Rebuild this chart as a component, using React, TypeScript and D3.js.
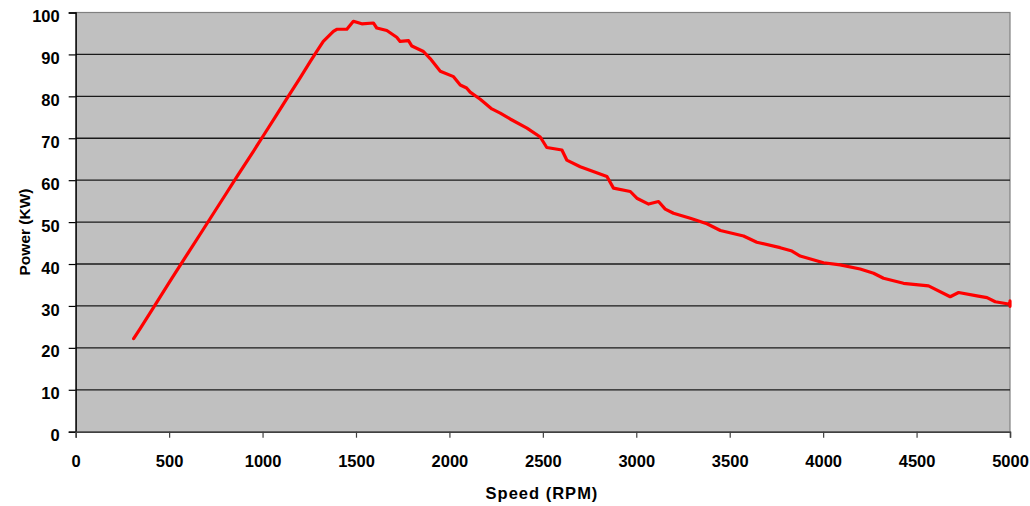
import { useEffect, useRef } from 'react'
import * as d3 from 'd3'

// Power curve (rpm, kW)
const rpm = [
  310, 345, 416, 505, 594, 666, 719, 808, 862, 951, 1004, 1070, 1129, 1201, 1254, 1290,
  1325, 1379, 1397, 1451, 1486, 1531, 1593, 1611, 1665, 1718, 1736, 1781, 1799, 1861,
  1897, 1951, 2022, 2058, 2092, 2111, 2165, 2227, 2272, 2325, 2415, 2486, 2521, 2602,
  2628, 2700, 2843, 2878, 2968, 3003, 3066, 3119, 3155, 3199, 3289, 3378, 3450, 3574,
  3645, 3770, 3833, 3877, 4002, 4091, 4198, 4270, 4323, 4430, 4564, 4680, 4725, 4823,
  4877, 4921, 5000, 5000, 5000,
]
const power = [
  22.2, 24.6, 29.6, 35.9, 42.1, 47.1, 50.8, 57, 60.8, 66.9, 70.6, 75.2, 79.4, 84.4, 88.2, 90.7,
  93.1, 95.5, 96, 96, 97.9, 97.3, 97.5, 96.3, 95.7, 94.1, 93.1, 93.3, 92, 90.7,
  89, 86, 84.7, 82.7, 82, 81, 79.3, 77, 76, 74.6, 72.4, 70.3, 67.8, 67.2,
  64.8, 63.2, 60.9, 58.1, 57.3, 55.7, 54.3, 54.9, 53.1, 52.1, 50.9, 49.6, 48, 46.7,
  45.2, 43.9, 43.1, 41.9, 40.3, 39.8, 38.8, 37.8, 36.6, 35.4, 34.8, 32.2, 33.2, 32.4,
  32, 31, 30.4, 31.2, 29.9,
]
const xTicks = [0, 500, 1000, 1500, 2000, 2500, 3000, 3500, 4000, 4500, 5000]
const yTicks = [0, 10, 20, 30, 40, 50, 60, 70, 80, 90, 100]

export default function App() {
  const svgRef = useRef<SVGSVGElement>(null)

  useEffect(() => {
    if (!svgRef.current) return
    const svg = d3.select(svgRef.current)
    svg.selectAll('*').remove()

    const left = 75.7
    const right = 1010
    const top = 12.5
    const bottom = 431.7
    const font = '"Liberation Sans", Arial, sans-serif'

    const x = d3.scaleLinear().domain([0, 5000]).range([left, right])
    const y = d3.scaleLinear().domain([0, 100]).range([bottom, top])

    // plot area
    svg.append('rect')
      .attr('x', left).attr('y', top)
      .attr('width', right - left).attr('height', bottom - top)
      .attr('fill', '#c0c0c0')
      .attr('stroke', '#808080')
      .attr('stroke-width', 1.2)

    // gridlines
    svg.append('g')
      .selectAll('line')
      .data(yTicks.filter((d) => d > 0 && d < 100))
      .enter()
      .append('line')
      .attr('x1', left).attr('x2', right)
      .attr('y1', (d) => y(d)).attr('y2', (d) => y(d))
      .attr('stroke', '#1a1a1a')
      .attr('stroke-width', 1.3)

    // Y axis
    const yAxis = svg.append('g')
      .attr('transform', `translate(${left},0)`)
      .call(d3.axisLeft(y).tickValues(yTicks).tickFormat(d3.format('d')).tickSize(7).tickPadding(9))
    yAxis.select('.domain').attr('stroke', '#000').attr('stroke-width', 1.3)
    yAxis.selectAll('.tick line').attr('stroke', '#000').attr('stroke-width', 1.2)
    yAxis.selectAll('text')
      .attr('fill', '#000')
      .attr('dy', '0.55em')
      .style('font-family', font)
      .style('font-size', '16.5px')
      .style('font-weight', 'bold')

    // X axis
    const xAxis = svg.append('g')
      .attr('transform', `translate(0,${bottom})`)
      .call(d3.axisBottom(x).tickValues(xTicks).tickFormat(d3.format('d')).tickSize(6).tickPadding(18))
    xAxis.select('.domain').attr('stroke', '#404040').attr('stroke-width', 1.5)
    xAxis.selectAll('.tick line').attr('stroke', '#404040').attr('stroke-width', 1.2)
    xAxis.selectAll('text')
      .attr('fill', '#000')
      .style('font-family', font)
      .style('font-size', '16.5px')
      .style('font-weight', 'bold')

    // axis titles
    svg.append('text')
      .attr('x', 542)
      .attr('y', 499)
      .attr('text-anchor', 'middle')
      .attr('fill', '#000')
      .style('font-family', font)
      .style('font-size', '16.5px')
      .style('font-weight', 'bold')
      .style('letter-spacing', '1px')
      .text('Speed (RPM)')

    svg.append('text')
      .attr('transform', 'translate(30,232) rotate(-90)')
      .attr('text-anchor', 'middle')
      .attr('fill', '#000')
      .style('font-family', font)
      .style('font-size', '15.5px')
      .style('font-weight', 'bold')
      .text('Power (KW)')

    // power curve
    const pts = rpm.map((r, i) => [r, power[i]] as [number, number])
    const line = d3.line<[number, number]>()
      .x((d) => x(d[0]))
      .y((d) => y(d[1]))

    svg.append('path')
      .datum(pts)
      .attr('fill', 'none')
      .attr('stroke', '#ff0000')
      .attr('stroke-width', 3.2)
      .attr('stroke-linejoin', 'round')
      .attr('stroke-linecap', 'round')
      .attr('d', line)
  }, [])

  return (
    <div style={{ position: 'absolute', left: 0, top: 0, width: 1030, height: 506, background: '#fff' }}>
      <svg ref={svgRef} width={1030} height={506} />
    </div>
  )
}
